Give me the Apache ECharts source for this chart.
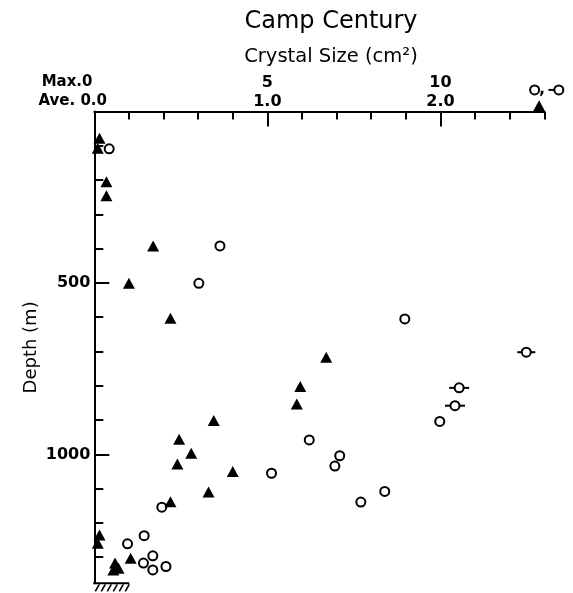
<!DOCTYPE html>
<html>
<head>
<meta charset="utf-8">
<script src="https://cdn.jsdelivr.net/npm/echarts@6/dist/echarts.min.js"></script>
<style>html,body{margin:0;padding:0;background:#fff;}#c{width:573px;height:593px;}</style>
</head>
<body>
<div id="c"></div>
<script>
// Average crystal size (triangles, read on the "Ave." scale)
var triAve   = [0.03,0.02,0.07,0.07,0.34,0.20,0.44,1.34,1.19,1.17,0.69,0.49,0.56,0.48,0.80,0.66,0.44,0.03,0.02,0.21,0.12,0.14,0.11,2.57];
var triDepth = [78,107,205,246,392,501,603,717,802,853,901,956,997,1028,1050,1110,1138,1235,1259,1303,1317,1332,1337,-17];
// Maximum crystal size (open circles, read on the "Max." scale)
var circMax   = [0.43,3.63,3.02,8.97,12.48,10.54,10.42,9.98,6.21,7.09,6.95,5.12,8.39,7.70,1.95,1.44,0.96,1.69,1.42,1.69,2.07,12.72,13.42];
var circDepth = [109,392,501,605,702,806,858,904,958,1004,1034,1055,1108,1139,1154,1237,1261,1296,1317,1337,1327,-63,-63];
// Horizontal range bars on some maximum values
var errMax   = [12.48,10.54,10.42,13.42];
var errDepth = [702,806,858,-63];
var errLow   = [12.22,10.25,10.13,13.12];
var errHigh  = [12.74,10.83,10.71,13.42];
// Axis ticks / labels
var aveMinorTicks = [0.2,0.4,0.6,0.8,1.2,1.4,1.6,1.8,2.2,2.4,2.6];
var aveLabels = [1.0,2.0];
var maxMajorTicks = [5,10];
var maxLabels = [5,10];
var depthMinorTicks = [100,200,300,400,600,700,800,900,1100,1200,1300];
var depthMajorTicks = [500,1000];
var depthLabels = [500,1000];
var AVE_MAX = 2.6, MAX_MAX = 13, DEPTH_MAX = 1376;

var FONT = 'DejaVu Sans';
var GRID = {left:94.3, top:111.5, width:450, height:471.8};
var chart = echarts.init(document.getElementById('c'), null, {renderer:'canvas'});

var triData = triAve.map(function(v,i){return [v, triDepth[i]];});
var circData = circMax.map(function(v,i){return [v, circDepth[i]];});
var errData = errMax.map(function(v,i){return [v, errDepth[i], errLow[i], errHigh[i]];});

var lbl = {color:'#000', fontFamily:FONT, fontWeight:'bold', fontSize:16};

function txt(s, x, y, size, weight, align){
  return {type:'text', x:x, y:y, style:{text:s, fill:'#000', fontFamily:FONT, fontSize:size, fontWeight:weight, align:align, verticalAlign:'middle'}};
}
// bedrock hatch at the bottom of the depth axis (decoration placed from grid layout)
var bx = GRID.left, by = GRID.top + GRID.height;
var graphics = [
  txt('Camp Century', 331, 22, 24, 'normal', 'center'),
  txt('Crystal Size (cm²)', 331, 57, 19.5, 'normal', 'center'),
  txt('Max.0', 92.5, 82.5, 15, 'bold', 'right'),
  txt('Ave. 0.0', 107, 101, 15, 'bold', 'right'),
  txt(',', 542, 90, 15, 'bold', 'center'),
  {type:'line', shape:{x1:bx-1, y1:by, x2:bx+35, y2:by}, style:{stroke:'#000', lineWidth:2}}
];
for (var i=0;i<6;i++){
  graphics.push({type:'line', shape:{x1:bx+1+6*i, y1:by+8, x2:bx+5+6*i, y2:by+1}, style:{stroke:'#000', lineWidth:1.6}});
}

chart.setOption({
  animation:false,
  backgroundColor:'#fff',
  grid:{left:GRID.left, top:GRID.top, width:GRID.width, height:GRID.height, containLabel:false},
  xAxis:[
    {type:'value', position:'top', min:0, max:AVE_MAX,
     axisLine:{show:true, onZero:false, lineStyle:{color:'#000', width:2}},
     axisTick:{show:true, inside:true, length:8, lineStyle:{color:'#000', width:2}, customValues:aveMinorTicks},
     axisLabel:Object.assign({show:true, margin:2, customValues:aveLabels, formatter:function(v){return Number(v).toFixed(1);}}, lbl),
     splitLine:{show:false}},
    {type:'value', position:'top', min:0, max:MAX_MAX,
     axisLine:{show:false},
     axisTick:{show:true, inside:true, length:15, lineStyle:{color:'#000', width:2}, customValues:maxMajorTicks},
     axisLabel:Object.assign({show:true, margin:21, customValues:maxLabels, formatter:function(v){return String(v);}}, lbl),
     splitLine:{show:false}}
  ],
  yAxis:[
    {type:'value', inverse:true, position:'left', min:0, max:DEPTH_MAX,
     axisLine:{show:true, onZero:false, lineStyle:{color:'#000', width:2}},
     axisTick:{show:true, inside:true, length:9, lineStyle:{color:'#000', width:2}, customValues:depthMinorTicks},
     axisLabel:Object.assign({show:true, margin:4, customValues:depthLabels, formatter:function(v){return String(v);}}, lbl),
     splitLine:{show:false},
     name:'Depth (m)', nameLocation:'middle', nameRotate:90, nameGap:54, nameMoveOverlap:false,
     nameTextStyle:{color:'#000', fontFamily:FONT, fontSize:18}},
    {type:'value', inverse:true, position:'left', min:0, max:DEPTH_MAX,
     axisLine:{show:false},
     axisTick:{show:true, inside:true, length:15, lineStyle:{color:'#000', width:2}, customValues:depthMajorTicks},
     axisLabel:{show:false}, splitLine:{show:false}}
  ],
  graphic:graphics,
  series:[
    {type:'custom', xAxisIndex:1, yAxisIndex:0, clip:false, z:2,
     encode:{x:[0,2,3], y:1},
     data:errData,
     renderItem:function(params, api){
       var y = api.value(1);
       var p1 = api.coord([api.value(2), y]);
       var p2 = api.coord([api.value(3), y]);
       return {type:'line', shape:{x1:p1[0], y1:p1[1], x2:p2[0], y2:p2[1]}, style:{stroke:'#000', lineWidth:2}};
     }},
    {type:'scatter', xAxisIndex:1, yAxisIndex:0, clip:false, z:3,
     symbol:'circle', symbolSize:9,
     itemStyle:{color:'#fff', borderColor:'#000', borderWidth:2, opacity:1},
     data:circData},
    {type:'scatter', xAxisIndex:0, yAxisIndex:0, clip:false, z:4,
     symbol:'triangle', symbolSize:[12,11],
     itemStyle:{color:'#000', opacity:1},
     data:triData}
  ]
});
</script>
</body>
</html>
